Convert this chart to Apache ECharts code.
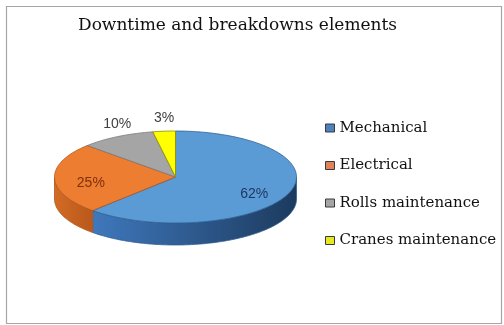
<!DOCTYPE html>
<html>
<head>
<meta charset="utf-8">
<style>
  html, body { margin: 0; padding: 0; background: #fff; }
  #chart { width: 504px; height: 325px; }
</style>
<script src="https://cdn.jsdelivr.net/npm/echarts@6/dist/echarts.min.js"></script>
</head>
<body>
<div id="chart"></div>
<script>
// Downtime and breakdown shares, in percent
const categories = ['Mechanical', 'Electrical', 'Rolls maintenance', 'Cranes maintenance'];
const shares = [62, 25, 10, 3];

const topColors = ['#5B9BD5', '#ED7D31', '#A5A5A5', '#FFFF00'];
const edgeColors = ['#2F5F92', '#B0571C', '#7A7A7A', '#8C8C00'];
const sideColors = [['#3F78BC', '#1C3A5E'], ['#D36B26', '#B8581B'], ['#8A8A8A', '#6E6E6E'], ['#C8C800', '#A0A000']];
const labelColors = ['#1F3863', '#7F300C', '#404040', '#404040'];
const legendColors = ['#4F81BD', '#E0835A', '#A5A5A5', '#E8E820'];

// Tilted pie geometry (screen pixels)
const cx = 175.5, cy = 177, rx = 121, ry = 46, depth = 22;
const total = shares.reduce((a, b) => a + b, 0);

// angle measured clockwise from 12 o'clock
function pt(deg, dy) {
  const r = deg * Math.PI / 180;
  return [cx + rx * Math.sin(r), cy - ry * Math.cos(r) + (dy || 0)];
}
function arc(a, b, dy) {
  const pts = [];
  const n = Math.max(2, Math.ceil(Math.abs(b - a)));
  for (let k = 0; k <= n; k++) pts.push(pt(a + (b - a) * k / n, dy));
  return pts;
}

function makeRender(i) {
  return function (params, api) {
    const value = api.value(0);
    const before = shares.slice(0, i).reduce((a, b) => a + b, 0);
    const start = before / total * 360;
    const end = start + value / total * 360;
    const children = [];

    // visible front wall of the slice, lit from the left
    const a = Math.max(start, 90), b = Math.min(end, 270);
    if (a < b) {
      const upper = arc(a, b, 0);
      const lower = arc(b, a, depth);
      children.push({
        type: 'polygon',
        shape: { points: upper.concat(lower) },
        style: {
          fill: new echarts.graphic.LinearGradient(0, 0, 1, 0, [
            { offset: 0, color: sideColors[i][0] },
            { offset: 1, color: sideColors[i][1] }
          ]),
          stroke: edgeColors[i],
          lineWidth: 0.8
        }
      });
    }

    // top face
    children.push({
      type: 'polygon',
      shape: { points: [[cx, cy]].concat(arc(start, end, 0)) },
      style: { fill: topColors[i], stroke: edgeColors[i], lineWidth: 0.8 }
    });

    // percentage label: inside for large slices, above the rim for small ones
    const pct = Math.round(value / total * 100);
    const mid = (start + end) / 2;
    let lx, ly, vAlign;
    if (pct >= 15) {
      const r = mid * Math.PI / 180;
      lx = cx + rx * 0.7 * Math.sin(r);
      ly = cy - ry * 0.7 * Math.cos(r) + 5;
      vAlign = 'middle';
    } else {
      const p = pt(mid);
      lx = p[0];
      ly = p[1] - 6;
      vAlign = 'bottom';
    }
    children.push({
      type: 'text',
      style: {
        text: pct + '%',
        x: lx, y: ly,
        align: 'center', verticalAlign: vAlign,
        fill: labelColors[i],
        font: '14px "Liberation Sans", Arial, sans-serif'
      }
    });

    return { type: 'group', children: children };
  };
}

const series = categories.map((name, i) => ({
  type: 'custom',
  name: name,
  coordinateSystem: 'none',
  data: [shares[i]],
  itemStyle: { color: legendColors[i] },
  renderItem: makeRender(i),
  silent: true
}));

const chart = echarts.init(document.getElementById('chart'), null, { renderer: 'canvas' });
chart.setOption({
  animation: false,
  backgroundColor: '#fff',
  title: {
    text: 'Downtime and breakdowns elements',
    left: 78, top: 17, padding: 0,
    textStyle: { fontFamily: 'DejaVu Serif', fontSize: 17, fontWeight: 'normal', color: '#111' }
  },
  legend: {
    orient: 'vertical',
    left: 325, top: 120.5, padding: 0,
    icon: 'rect', itemWidth: 9, itemHeight: 8, itemGap: 22.5,
    itemStyle: { borderColor: '#3a3a3a', borderWidth: 1 },
    textStyle: { fontFamily: 'DejaVu Serif', fontSize: 15, lineHeight: 15, color: '#111' },
    data: categories,
    selectedMode: false
  },
  graphic: [{
    type: 'rect',
    shape: { x: 6.5, y: 6.5, width: 495, height: 317 },
    style: { fill: 'none', stroke: '#A6A6A6', lineWidth: 1.2 },
    silent: true, z: -1
  }],
  series: series
});
</script>
</body>
</html>
